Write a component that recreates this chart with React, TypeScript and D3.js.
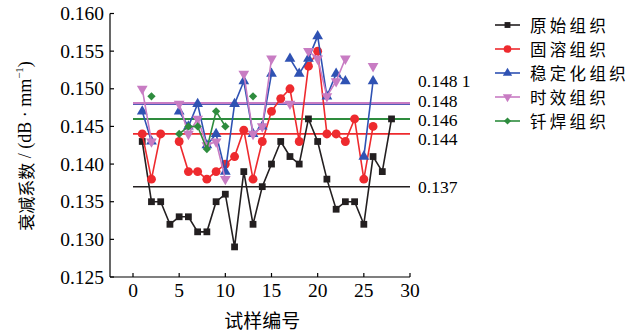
import React from "react";
import * as d3 from "d3";

// Specimen numbers along the x axis
const specimens = [1, 2, 3, 4, 5, 6, 7, 8, 9, 10, 11, 12, 13, 14, 15, 16, 17, 18, 19, 20, 21, 22, 23, 24, 25, 26, 27, 28];

// Attenuation coefficient (dB/mm) per specimen; null = not tested
const original = [0.143, 0.135, 0.135, 0.132, 0.133, 0.133, 0.131, 0.131, 0.135, 0.136, 0.129, 0.139, 0.132, 0.137, 0.140, 0.143, 0.141, 0.140, 0.146, 0.143, 0.138, 0.134, 0.135, 0.135, 0.132, 0.141, 0.139, 0.146];
const solution = [0.144, 0.138, 0.144, null, 0.143, 0.139, 0.139, 0.138, 0.139, 0.140, 0.141, 0.1445, 0.138, 0.143, 0.147, 0.1487, 0.150, 0.143, 0.153, 0.155, 0.144, 0.144, 0.143, 0.146, 0.138, 0.145, null, null];
const stabilized = [0.147, 0.143, null, null, 0.147, 0.145, 0.148, 0.1425, 0.144, 0.139, 0.148, 0.151, 0.144, 0.145, 0.152, null, 0.154, 0.152, 0.154, 0.157, 0.149, 0.152, 0.151, null, 0.141, 0.151, null, null];
const aged = [0.150, 0.143, null, null, 0.148, 0.144, 0.146, 0.1425, 0.143, 0.138, null, 0.152, 0.144, 0.145, 0.154, null, 0.148, null, 0.155, 0.154, 0.149, 0.151, 0.154, null, null, 0.153, null, null];
const brazed = [null, 0.149, null, null, 0.144, 0.145, 0.145, 0.142, 0.147, 0.145, null, null, 0.149, null, null, null, null, null, null, null, null, null, null, null, null, null, null, null];

// Mean values shown as horizontal reference lines
const meanOriginal = 0.137;
const meanSolution = 0.144;
const meanStabilized = 0.148;
const meanAged = 0.1481;
const meanBrazed = 0.146;

const seriesNames = ["原始组织", "固溶组织", "稳定化组织", "时效组织", "钎焊组织"];
const xTicks = [0, 5, 10, 15, 20, 25, 30];
const yTicks = [0.125, 0.13, 0.135, 0.14, 0.145, 0.15, 0.155, 0.16];

const SERIF = "'Liberation Serif', 'DejaVu Serif', serif";
const CJK = "'Noto Sans CJK SC', 'Noto Sans', sans-serif";

type SeriesDef = {
  name: string;
  values: (number | null)[];
  mean: number;
  meanLabel: string;
  labelNudge: number;
  color: string;
  symbol: d3.SymbolType;
  size: number;
  rotate: number;
  meanWidth: number;
};

const series: SeriesDef[] = [
  { name: seriesNames[0], values: original, mean: meanOriginal, meanLabel: "0.137", labelNudge: 0, color: "#231f20", symbol: d3.symbolSquare, size: 46, rotate: 0, meanWidth: 1.5 },
  { name: seriesNames[1], values: solution, mean: meanSolution, meanLabel: "0.144", labelNudge: 5.5, color: "#ee2a2e", symbol: d3.symbolCircle, size: 62, rotate: 0, meanWidth: 1.8 },
  { name: seriesNames[2], values: stabilized, mean: meanStabilized, meanLabel: "0.148", labelNudge: -3.3, color: "#2f52b3", symbol: d3.symbolTriangle, size: 50, rotate: 0, meanWidth: 2.2 },
  { name: seriesNames[3], values: aged, mean: meanAged, meanLabel: "0.148 1", labelNudge: -22, color: "#c87cc3", symbol: d3.symbolTriangle, size: 50, rotate: 180, meanWidth: 2.2 },
  { name: seriesNames[4], values: brazed, mean: meanBrazed, meanLabel: "0.146", labelNudge: 1.1, color: "#2e8c3e", symbol: d3.symbolDiamond2, size: 44, rotate: 0, meanWidth: 2 },
];

export default function App() {
  const width = 634;
  const height = 332;
  const axisLeft = 110;
  const axisBottom = 277;

  const x = d3.scaleLinear().domain([0, 30]).range([133, 410]);
  const y = d3.scaleLinear().domain([0.125, 0.16]).range([axisBottom, 13.5]);

  const line = d3
    .line<number | null>()
    .defined((d) => d !== null)
    .x((_, i) => x(specimens[i]))
    .y((d) => y(d as number));

  const legendX = 495;
  const legendRows = [25, 49, 73, 97, 121];

  return (
    <svg
      width={width}
      height={height}
      style={{ position: "absolute", left: 0, top: 0, background: "#fff" }}
    >
      {/* Axes */}
      <line x1={axisLeft} y1={y(0.16)} x2={axisLeft} y2={axisBottom} stroke="#000" strokeWidth={1.2} />
      <line x1={axisLeft} y1={axisBottom} x2={x(30)} y2={axisBottom} stroke="#000" strokeWidth={1.2} />
      {yTicks.map((t) => (
        <g key={"y" + t}>
          <line x1={axisLeft} x2={axisLeft + 4} y1={y(t)} y2={y(t)} stroke="#000" strokeWidth={1.2} />
          <text x={axisLeft - 6} y={y(t)} textAnchor="end" dominantBaseline="central" fontFamily={SERIF} fontSize={19.5}>
            {d3.format(".3f")(t)}
          </text>
        </g>
      ))}
      {xTicks.map((t) => (
        <g key={"x" + t}>
          <line x1={x(t)} x2={x(t)} y1={axisBottom} y2={axisBottom - 4} stroke="#000" strokeWidth={1.2} />
          <text x={x(t)} y={290} textAnchor="middle" dominantBaseline="central" fontFamily={SERIF} fontSize={19.5}>
            {t}
          </text>
        </g>
      ))}

      {/* Axis titles */}
      <text x={x(14)} y={319} textAnchor="middle" dominantBaseline="central" fontFamily={CJK} fontSize={19}>
        试样编号
      </text>
      <text
        transform={`translate(25,146) rotate(-90)`}
        textAnchor="middle"
        dominantBaseline="central"
        fontSize={17}
      >
        <tspan fontFamily={CJK}>衰减系数</tspan>
        <tspan fontFamily={SERIF} fontSize={18}> / (dB · mm</tspan>
        <tspan fontFamily={SERIF} fontSize={11} dy={-6.5}>−1</tspan>
        <tspan fontFamily={SERIF} fontSize={18} dy={6.5}>)</tspan>
      </text>

      {/* Mean reference lines */}
      {series.map((s) => (
        <line
          key={"m" + s.name}
          x1={x(0)}
          x2={x(30)}
          y1={y(s.mean)}
          y2={y(s.mean)}
          stroke={s.color}
          strokeWidth={s.meanWidth}
        />
      ))}
      {series.map((s) => (
        <text
          key={"ml" + s.name}
          x={418}
          y={y(s.mean) + s.labelNudge}
          dominantBaseline="central"
          fontFamily={SERIF}
          fontSize={17.5}
        >
          {s.meanLabel}
        </text>
      ))}

      {/* Data series */}
      {series.map((s) => (
        <g key={"s" + s.name}>
          <path d={line(s.values) || ""} fill="none" stroke={s.color} strokeWidth={1.6} />
          {s.values.map((v, i) =>
            v === null ? null : (
              <path
                key={i}
                d={d3.symbol().type(s.symbol).size(s.size)() || ""}
                transform={`translate(${x(specimens[i])},${y(v)}) rotate(${s.rotate})`}
                fill={s.color}
              />
            )
          )}
        </g>
      ))}

      {/* Legend */}
      {series.map((s, i) => (
        <g key={"lg" + s.name} transform={`translate(${legendX},${legendRows[i]})`}>
          <line x1={0} x2={25} y1={0} y2={0} stroke={s.color} strokeWidth={1.6} />
          <path
            d={d3.symbol().type(s.symbol).size(s.size * 0.75)() || ""}
            transform={`translate(12.5,0) rotate(${s.rotate})`}
            fill={s.color}
          />
          <text x={35} y={0} dominantBaseline="central" fontFamily={CJK} fontSize={16.5} letterSpacing={3.3}>
            {s.name}
          </text>
        </g>
      ))}
    </svg>
  );
}
